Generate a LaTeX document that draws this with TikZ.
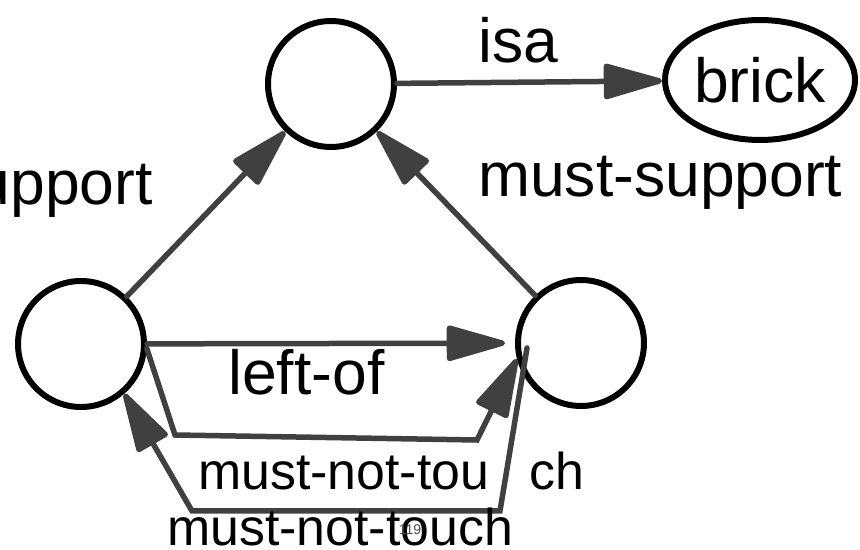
\documentclass[tikz,border=0pt]{standalone}
\usepackage{fontspec}
\setmainfont{Liberation Sans}
\usetikzlibrary{arrows.meta, shapes.geometric}

\begin{document}
\begin{tikzpicture}[x=0.02cm, y=-0.02cm,
    >={Triangle[length=1.32cm, width=0.72cm, round]},
    concept/.style={circle, draw, line width=0.12cm, minimum size=2.52cm, inner sep=0pt},
    relation/.style={draw=black!75, line width=0.11cm, line cap=round},
    biglabel/.style={font=\fontsize{35.5}{40}\selectfont, inner sep=0pt},
    smalllabel/.style={font=\fontsize{29.5}{34}\selectfont, inner sep=0pt}]
    \useasboundingbox (0, 0) rectangle (860, 550);

    \node[concept] (top)   at (331, 84)  {};
    \node[concept] (left)  at (81, 344)  {};
    \node[concept] (right) at (581, 343) {};
    \node[ellipse, draw, line width=0.12cm, minimum width=3.8cm, minimum height=2.4cm,
          biglabel] (brick) at (760, 80) {brick};

    \draw[relation, ->] (top) -- (brick);
    \draw[relation, ->] (left) -- (top);
    \draw[relation, ->] (right) -- (top);
    \draw[relation, ->, shorten >=0.2cm] (left) -- (right);

    \coordinate (upa) at (175, 435);
    \coordinate (upb) at (477, 440);
    \draw[relation, ->] (left.-4) -- (upa) -- (upb) -- (right.194);

    \coordinate (lowa) at (500, 511);
    \coordinate (lowb) at (192, 511);
    \draw[relation, ->] ([xshift=-1.08cm, yshift=-0.1cm]right.center) -- (lowa) -- (lowb) -- (left.-49);

    \node[biglabel, anchor=base west] (isa)   at (478, 63)  {isa};
    \node[biglabel, anchor=base east] (supl)  at (153, 205) {must-support};
    \node[biglabel, anchor=base west] (supr)  at (478, 197) {must-support};
    \node[biglabel, anchor=base west] (leftof) at (228, 395) {left-of};
    \node[smalllabel, anchor=base west] (mntup)  at (198, 490) {must-not-tou\hspace{0.8cm}ch};
    \node[smalllabel, anchor=base west] (mntlow) at (167, 546) {must-not-touch};
    \node[font=\fontsize{8}{9}\selectfont, text=black!70] (num) at (410, 530) {119};
\end{tikzpicture}
\end{document}
